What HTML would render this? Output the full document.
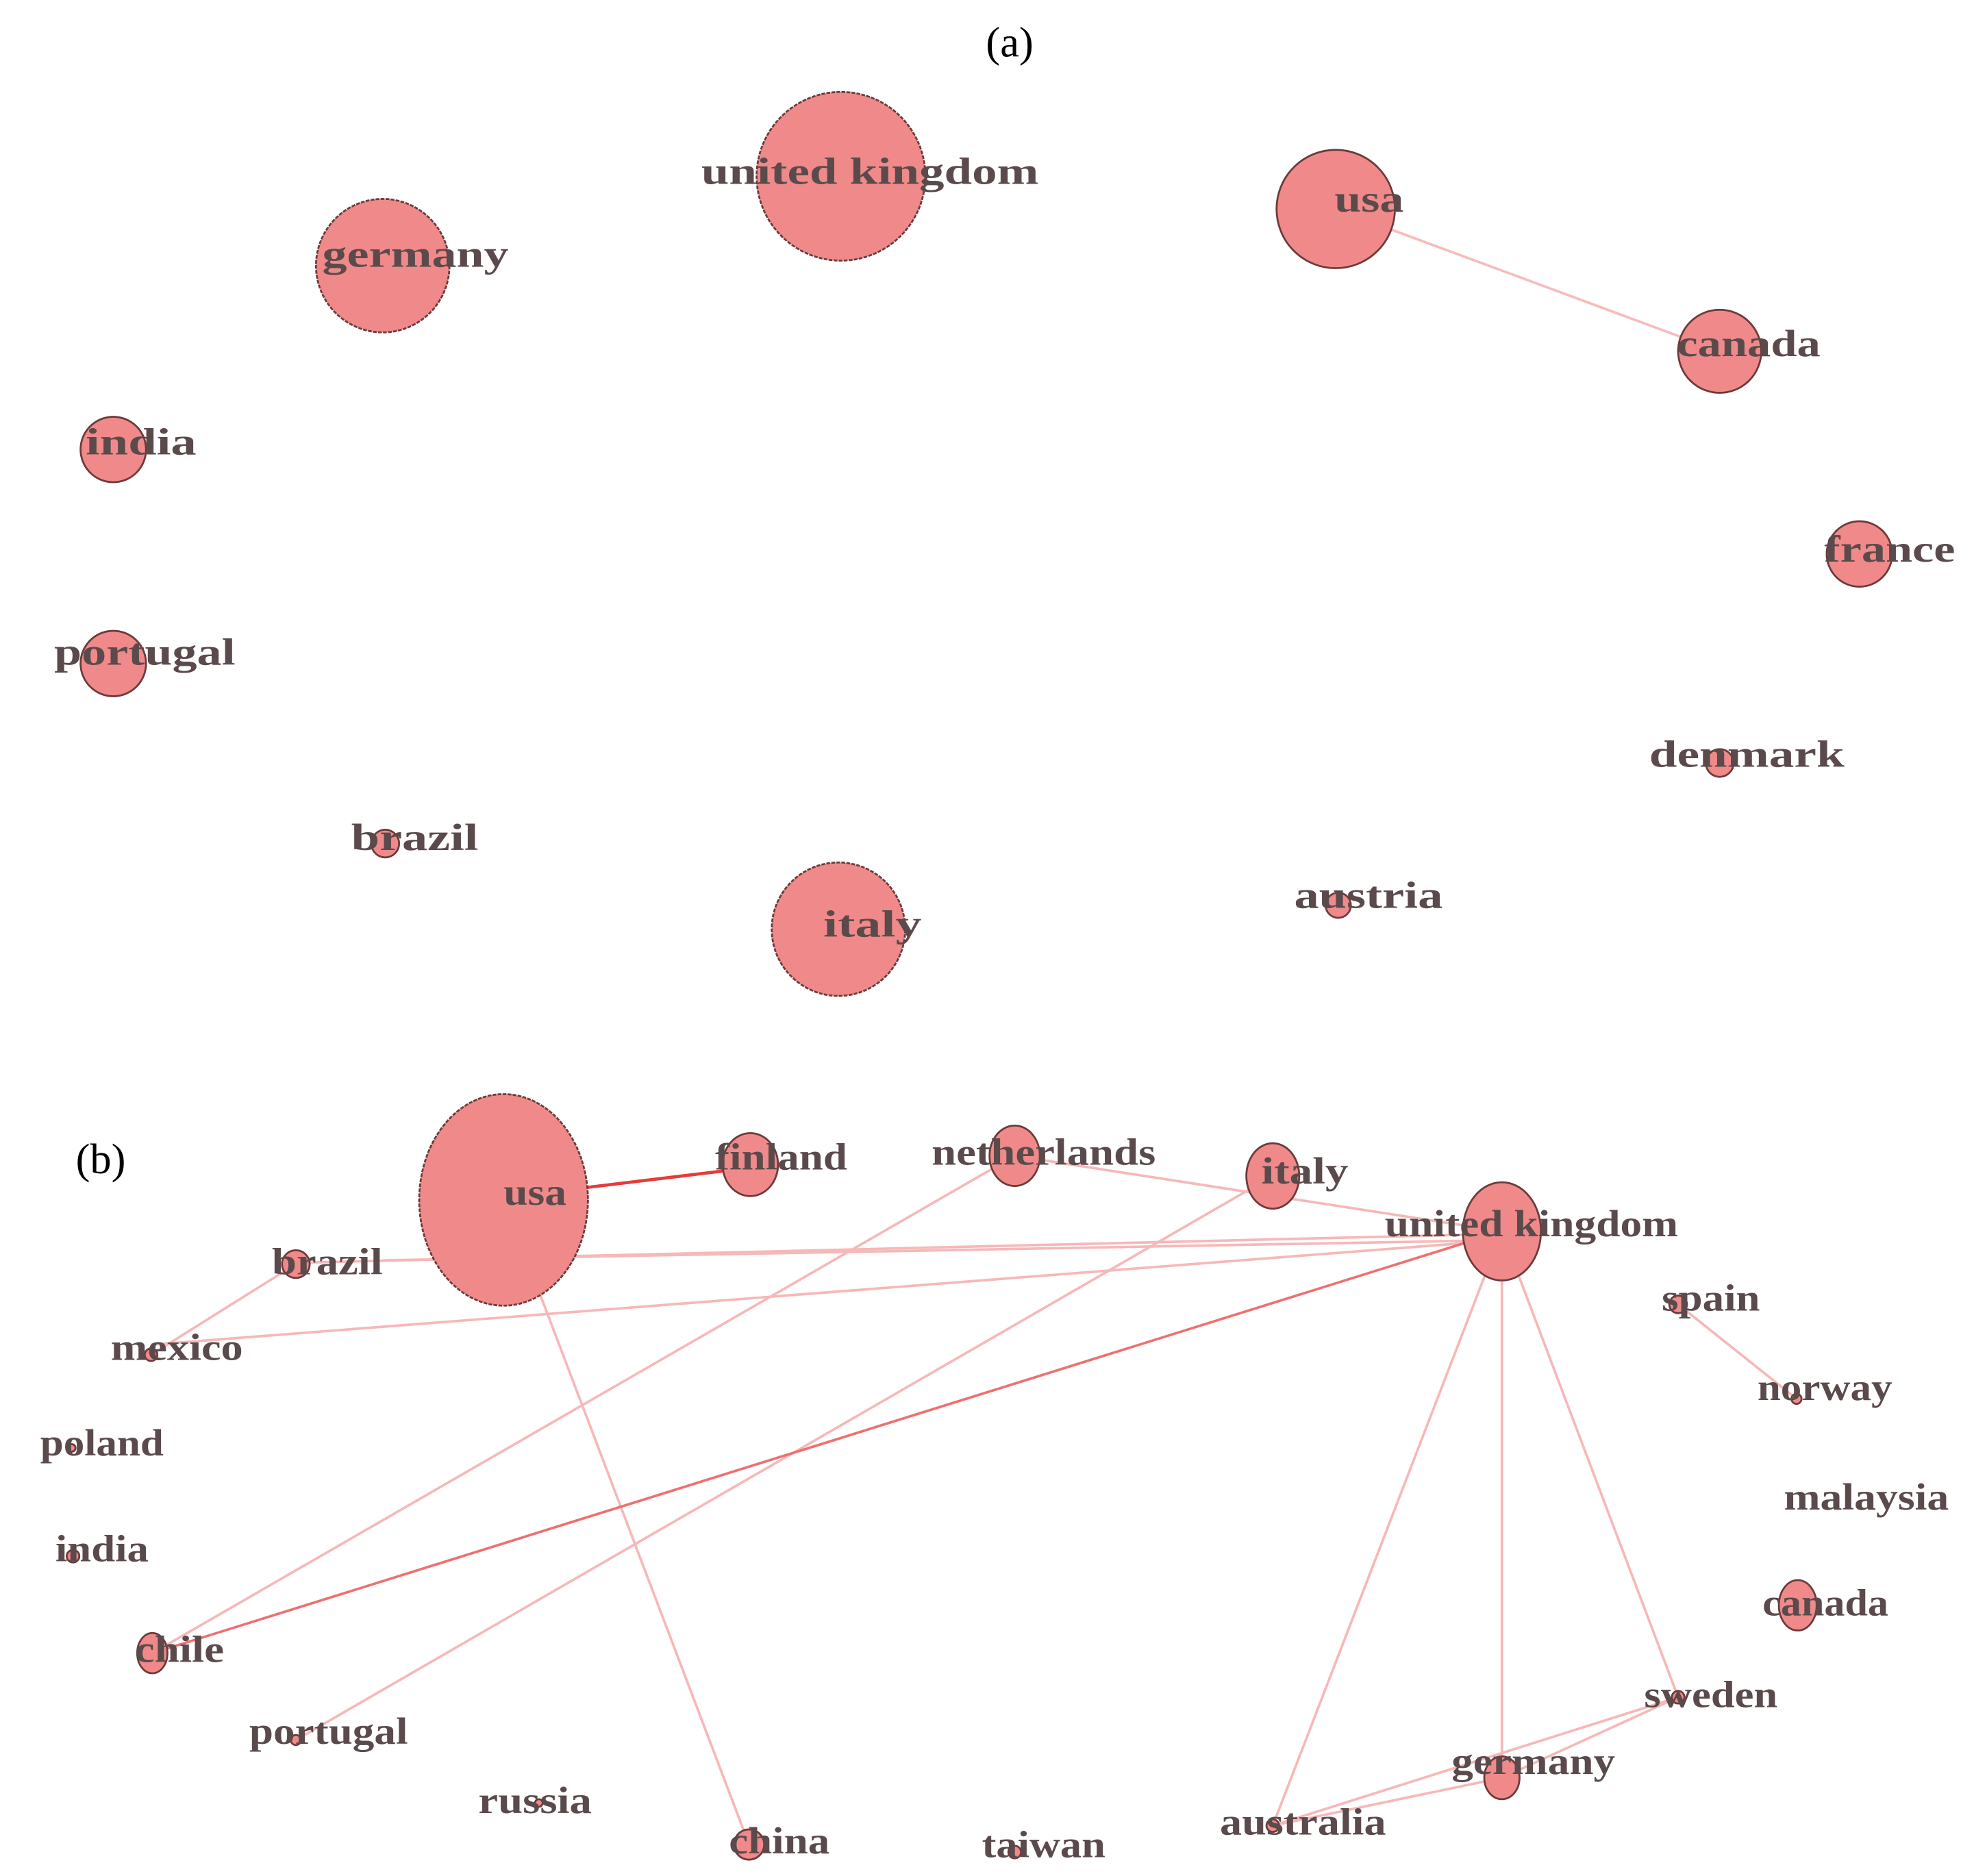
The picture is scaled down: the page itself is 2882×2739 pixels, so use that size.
<!DOCTYPE html>
<html><head><meta charset="utf-8"><style>
html,body{margin:0;padding:0;background:#fff}
svg{display:block}
text{font-family:"Liberation Serif",serif;font-weight:bold;fill:#5b4a4c;font-size:30px}
.t{font-weight:normal;fill:#000;font-size:34px}
</style></head><body>
<svg width="2882" height="2739" viewBox="0 0 1568 1490" preserveAspectRatio="none" xmlns="http://www.w3.org/2000/svg">
<g fill="#f08a8a" stroke="#6b3a3a" stroke-width="1.5">
<line x1="1061" y1="166" x2="1366" y2="279" stroke="#f6bcbc" stroke-width="2"/>
<circle cx="668" cy="140" r="67" stroke-dasharray="3 1"/>
<circle cx="304" cy="211" r="53" stroke-dasharray="3 1"/>
<circle cx="1061" cy="166" r="47"/>
<circle cx="1366" cy="279" r="33"/>
<circle cx="90" cy="357" r="26"/>
<circle cx="1477" cy="440" r="26"/>
<circle cx="90" cy="527" r="26"/>
<circle cx="1366" cy="606" r="11"/>
<circle cx="306" cy="670" r="11"/>
<circle cx="666" cy="738" r="53" stroke-dasharray="3 1"/>
<circle cx="1063" cy="719" r="10"/>
</g>
<g stroke="#f6b8b8" stroke-width="2" fill="none">
<line x1="806" y1="918" x2="1193" y2="978"/>
<line x1="235" y1="1003" x2="1193" y2="980"/>
<line x1="304" y1="1001" x2="1193" y2="985"/>
<line x1="120" y1="1068" x2="1193" y2="985"/>
<line x1="120" y1="1076" x2="235" y2="1004"/>
<line x1="121" y1="1313" x2="806" y2="918"/>
<line x1="235" y1="1382" x2="1011" y2="934"/>
<line x1="410" y1="978" x2="595" y2="1465"/>
<line x1="1193" y1="978" x2="1193" y2="1412"/>
<line x1="1193" y1="978" x2="1011" y2="1450"/>
<line x1="1193" y1="978" x2="1333" y2="1348"/>
<line x1="1333" y1="1348" x2="1011" y2="1450"/>
<line x1="1333" y1="1348" x2="1193" y2="1412"/>
<line x1="1193" y1="1412" x2="1011" y2="1450"/>
<line x1="1333" y1="1036" x2="1427" y2="1111"/>
</g>
<line x1="121" y1="1313" x2="1193" y2="978" stroke="#ee7070" stroke-width="2"/>
<line x1="467" y1="943" x2="575" y2="930" stroke="#e83a3a" stroke-width="2.5"/>
<g fill="#f08a8a" stroke="#6b3a3a" stroke-width="1.5">
<ellipse cx="400" cy="953" rx="67" ry="84" stroke-dasharray="3 1"/>
<ellipse cx="596" cy="925" rx="22" ry="25"/>
<ellipse cx="806" cy="918" rx="20" ry="24"/>
<ellipse cx="1011" cy="934" rx="21" ry="26"/>
<ellipse cx="1193" cy="978" rx="31" ry="39"/>
<circle cx="235" cy="1004" r="11"/>
<circle cx="120" cy="1076" r="5"/>
<circle cx="57" cy="1150" r="3"/>
<circle cx="58" cy="1236" r="5"/>
<ellipse cx="121" cy="1313" rx="12" ry="16"/>
<circle cx="235" cy="1382" r="4"/>
<circle cx="428" cy="1432" r="3"/>
<circle cx="595" cy="1465" r="12"/>
<circle cx="806" cy="1471" r="5"/>
<circle cx="1011" cy="1450" r="5"/>
<ellipse cx="1193" cy="1412" rx="14" ry="17"/>
<circle cx="1333" cy="1348" r="5"/>
<ellipse cx="1428" cy="1275" rx="15" ry="20"/>
<circle cx="1427" cy="1111" r="4"/>
<circle cx="1333" cy="1036" r="7"/>
</g>
<text class="t" x="802" y="45" text-anchor="middle">(a)</text>
<text class="t" x="80" y="932" text-anchor="middle">(b)</text>
<g lengthAdjust="spacingAndGlyphs">
<text x="557" y="146" textLength="268" lengthAdjust="spacingAndGlyphs">united kingdom</text>
<text x="256" y="212" textLength="148" lengthAdjust="spacingAndGlyphs">germany</text>
<text x="1060" y="168" textLength="55" lengthAdjust="spacingAndGlyphs">usa</text>
<text x="1332" y="283" textLength="114" lengthAdjust="spacingAndGlyphs">canada</text>
<text x="68" y="361" textLength="88" lengthAdjust="spacingAndGlyphs">india</text>
<text x="1449" y="446" textLength="104" lengthAdjust="spacingAndGlyphs">france</text>
<text x="43" y="528" textLength="144" lengthAdjust="spacingAndGlyphs">portugal</text>
<text x="1310" y="609" textLength="155" lengthAdjust="spacingAndGlyphs">denmark</text>
<text x="279" y="675" textLength="101" lengthAdjust="spacingAndGlyphs">brazil</text>
<text x="654" y="744" textLength="78" lengthAdjust="spacingAndGlyphs">italy</text>
<text x="1028" y="721" textLength="118" lengthAdjust="spacingAndGlyphs">austria</text>

<text x="400" y="957" textLength="50" lengthAdjust="spacingAndGlyphs">usa</text>
<text x="568" y="929" textLength="105" lengthAdjust="spacingAndGlyphs">finland</text>
<text x="740" y="925" textLength="178" lengthAdjust="spacingAndGlyphs">netherlands</text>
<text x="1002" y="940" textLength="69" lengthAdjust="spacingAndGlyphs">italy</text>
<text x="1100" y="982" textLength="233" lengthAdjust="spacingAndGlyphs">united kingdom</text>
<text x="216" y="1012" textLength="88" lengthAdjust="spacingAndGlyphs">brazil</text>
<text x="88" y="1080" textLength="105" lengthAdjust="spacingAndGlyphs">mexico</text>
<text x="32" y="1156" textLength="98" lengthAdjust="spacingAndGlyphs">poland</text>
<text x="44" y="1240" textLength="74" lengthAdjust="spacingAndGlyphs">india</text>
<text x="107" y="1320" textLength="71" lengthAdjust="spacingAndGlyphs">chile</text>
<text x="198" y="1385" textLength="126" lengthAdjust="spacingAndGlyphs">portugal</text>
<text x="380" y="1440" textLength="90" lengthAdjust="spacingAndGlyphs">russia</text>
<text x="579" y="1472" textLength="80" lengthAdjust="spacingAndGlyphs">china</text>
<text x="780" y="1475" textLength="98" lengthAdjust="spacingAndGlyphs">taiwan</text>
<text x="969" y="1457" textLength="132" lengthAdjust="spacingAndGlyphs">australia</text>
<text x="1153" y="1409" textLength="130" lengthAdjust="spacingAndGlyphs">germany</text>
<text x="1306" y="1356" textLength="106" lengthAdjust="spacingAndGlyphs">sweden</text>
<text x="1400" y="1283" textLength="100" lengthAdjust="spacingAndGlyphs">canada</text>
<text x="1417" y="1199" textLength="131" lengthAdjust="spacingAndGlyphs">malaysia</text>
<text x="1396" y="1112" textLength="107" lengthAdjust="spacingAndGlyphs">norway</text>
<text x="1320" y="1041" textLength="78" lengthAdjust="spacingAndGlyphs">spain</text>
</g>
</svg>
</body></html>
